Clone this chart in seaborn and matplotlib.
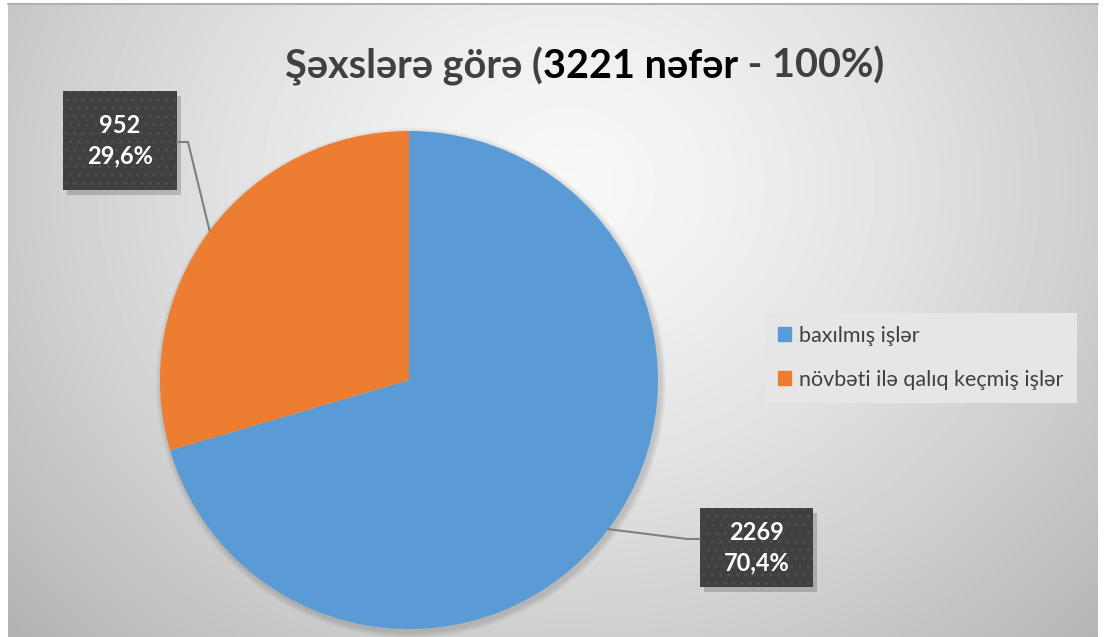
import numpy as np
import matplotlib
matplotlib.use("Agg")
import matplotlib.pyplot as plt
import seaborn as sns
from matplotlib.patches import Rectangle, Circle

categories = ["baxılmış işlər", "növbəti ilə qalıq keçmiş işlər"]
values = [2269, 952]
total_label = "3221 nəfər"

sns.set_theme(style="white")
plt.rcParams['font.family'] = ['Lato', 'Noto Sans', 'DejaVu Sans']
plt.rcParams['hatch.linewidth'] = 1.2
colors = ["#5B9BD5", "#ED7D31"]

W, H = 1109, 637
fig = plt.figure(figsize=(W / 100, H / 100), dpi=100)
fig.patch.set_facecolor("white")

# background panel with radial gradient
bg = fig.add_axes([8 / W, 0, 1090 / W, 633 / H])
yy, xx = np.mgrid[0:633, 0:1090]
r = np.sqrt((xx - 560) ** 2 + ((yy - 180) * 1.15) ** 2) / 700
shade = np.clip(0.97 - 0.24 * r ** 1.4, 0, 1)
bg.imshow(shade, cmap="gray", vmin=0, vmax=1, aspect="auto", interpolation="bilinear")
bg.set_axis_off()
fig.add_artist(plt.Line2D([8 / W, 1098 / W], [1 - 4 / H, 1 - 4 / H], color="#b0b0b0", lw=1.5))

ax = fig.add_axes([0, 0, 1, 1])
ax.set_facecolor("none")

cx, cy, rad = 409, H - 380, 249
# soft shadow under pie
for k in range(6):
    ax.add_patch(Circle((cx + 2, cy - 3), rad + 6 - k, color="black", alpha=0.025, lw=0))
wedges, _ = ax.pie(values, colors=colors, startangle=90, counterclock=False,
                   center=(cx, cy), radius=rad, wedgeprops=dict(linewidth=0))
ax.set_xlim(0, W)
ax.set_ylim(0, H)
ax.set_aspect("equal")
ax.set_axis_off()

# data labels
total = sum(values)
boxes = [(700, 508, 113, 79), (63, 91, 114, 99)]
for w, v, (bx, by, bw, bh) in zip(wedges, values, boxes):
    y0 = H - by - bh
    ax.add_patch(Rectangle((bx + 4, y0 - 5), bw, bh, color="black", alpha=0.18, lw=0))
    ax.add_patch(Rectangle((bx, y0), bw, bh, facecolor="#404040", edgecolor="#4d4d4d",
                           hatch="..", lw=0))
    pct = f"{v / total * 100:.1f}".replace(".", ",") + "%"
    ax.text(bx + bw / 2, y0 + bh / 2, f"{v}\n{pct}", color="white", fontsize=17,
            fontweight="bold", ha="center", va="center", linespacing=1.4)
    ang = np.deg2rad((w.theta1 + w.theta2) / 2)
    ex, ey = cx + rad * np.cos(ang), cy + rad * np.sin(ang)
    if ex > cx:
        ax.plot([ex, 687, bx], [ey, H - 539, H - 539], color="#7f7f7f", lw=1.5)
    else:
        ax.plot([ex, 188, bx + bw], [ey, H - 142, H - 142], color="#7f7f7f", lw=1.5)

# title in three parts
renderer = fig.canvas.get_renderer()
parts = [("Şəxslərə görə (", "#404040"), (total_label, "black"), (" - 100%)", "#404040")]
fs = 28.5
texts = []
for s, c in parts:
    texts.append(ax.text(0, H - 78, s, color=c, fontsize=fs, fontweight="bold", ha="left", va="baseline"))
widths = [t.get_window_extent(renderer).width for t in texts]
x = 585 - sum(widths) / 2
for t, wd in zip(texts, widths):
    t.set_x(x)
    x += wd

handles = [Rectangle((0, 0), 1, 1, color=c) for c in colors]
leg = fig.legend(handles, categories, loc="upper left", bbox_to_anchor=(765 / W, 1 - 313 / H),
                 frameon=True, fontsize=15.5, labelspacing=1.1, handlelength=0.6, handleheight=0.6,
                 handletextpad=0.4, borderpad=0.6, borderaxespad=0, fancybox=False)
leg.get_frame().set_facecolor("#e6e6e6")
leg.get_frame().set_edgecolor("none")
leg.get_frame().set_alpha(1)
for t in leg.get_texts():
    t.set_color("#404040")

fig.savefig("out.png", dpi=100)
